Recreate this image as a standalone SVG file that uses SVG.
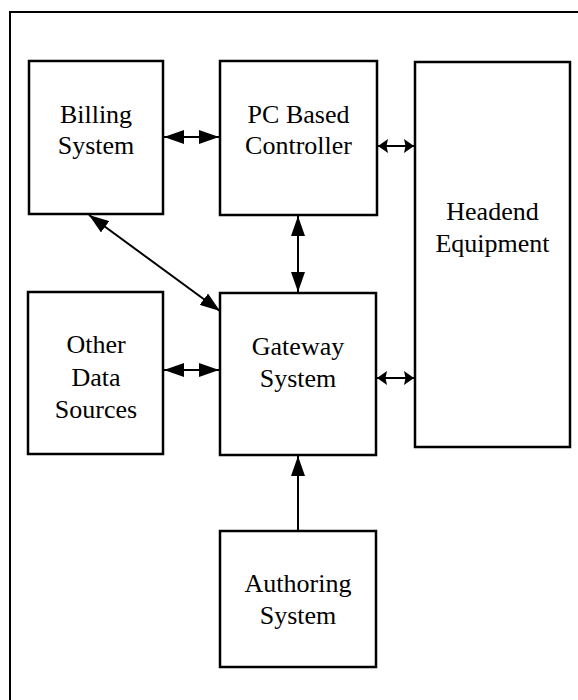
<svg xmlns="http://www.w3.org/2000/svg" width="578" height="700" viewBox="0 0 578 700">
<style>
.box{fill:#fff;stroke:#000;stroke-width:2.5}
.t{font-family:"Liberation Serif","Times New Roman",serif;font-size:26px;fill:#000;text-anchor:middle}
.c{stroke:#000;stroke-width:2;fill:none}
.big{marker-start:url(#hb);marker-end:url(#hb)}
.small{marker-start:url(#hs);marker-end:url(#hs)}
</style>
<defs>
<marker id="hb" markerUnits="userSpaceOnUse" markerWidth="20" markerHeight="14" refX="20" refY="7" orient="auto-start-reverse" viewBox="0 0 20 14">
<path d="M0,0 L20,7 L0,14 z" fill="#000"/>
</marker>
<marker id="hs" markerUnits="userSpaceOnUse" markerWidth="10" markerHeight="14" refX="10" refY="7" orient="auto-start-reverse" viewBox="0 0 10 14">
<path d="M0,0 L10,7 L0,14 L1.5,7 z" fill="#000"/>
</marker>
</defs>
<rect width="578" height="700" fill="#fff"/>
<path d="M10,700 L10,12 L578,12" stroke="#000" stroke-width="2" fill="none"/>
<g id="billing">
<rect class="box" x="29" y="61" width="134" height="153"/>
<text class="t" x="96" y="123">Billing</text>
<text class="t" x="96" y="154">System</text>
</g>
<g id="pc">
<rect class="box" x="220" y="61" width="157" height="154"/>
<text class="t" x="298.5" y="123">PC Based</text>
<text class="t" x="298.5" y="154">Controller</text>
</g>
<g id="headend">
<rect class="box" x="415" y="62" width="155" height="385"/>
<text class="t" x="492.5" y="220">Headend</text>
<text class="t" x="492.5" y="252">Equipment</text>
</g>
<g id="other">
<rect class="box" x="28" y="292" width="135" height="162"/>
<text class="t" x="96" y="353">Other</text>
<text class="t" x="96" y="386">Data</text>
<text class="t" x="96" y="418">Sources</text>
</g>
<g id="gateway">
<rect class="box" x="220" y="293" width="156" height="162"/>
<text class="t" x="298" y="355">Gateway</text>
<text class="t" x="298" y="387">System</text>
</g>
<g id="authoring">
<rect class="box" x="220" y="531" width="156" height="136"/>
<text class="t" x="298" y="592">Authoring</text>
<text class="t" x="298" y="624">System</text>
</g>
<g id="connectors">
<line class="c big" x1="164" y1="137" x2="219" y2="137"/>
<line class="c small" x1="378" y1="146" x2="414" y2="146"/>
<line class="c big" x1="298" y1="216" x2="298" y2="292"/>
<line class="c big" x1="89" y1="215" x2="220" y2="311"/>
<line class="c big" x1="164" y1="370" x2="219" y2="370"/>
<line class="c small" x1="377" y1="378" x2="414" y2="378"/>
<line class="c" x1="298" y1="530" x2="298" y2="456" marker-end="url(#hb)"/>
</g>
</svg>
